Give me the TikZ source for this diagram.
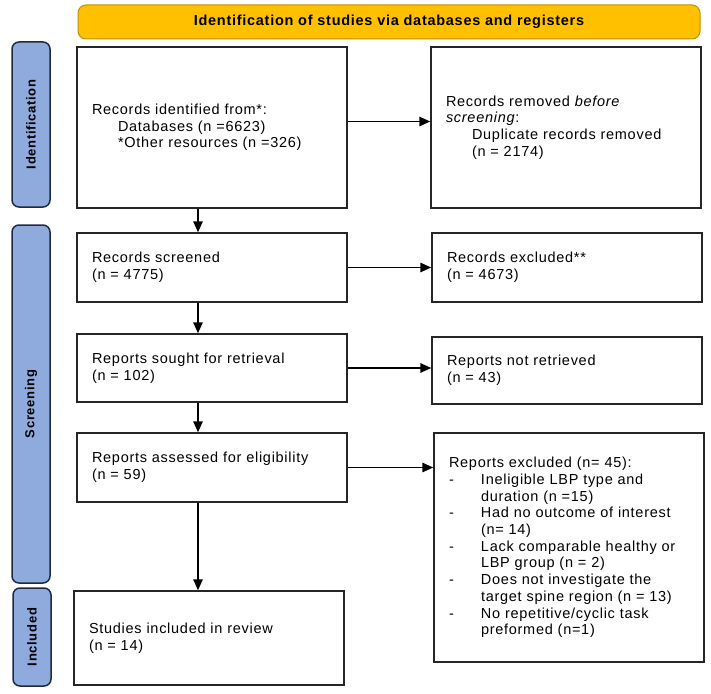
\documentclass[tikz,border=0pt]{standalone}
\usepackage{fontspec}
\setmainfont{Liberation Sans}[LetterSpace=5.0]
\usetikzlibrary{arrows.meta}
\definecolor{bannerfill}{HTML}{FFC000}
\definecolor{bannerline}{HTML}{C09000}
\definecolor{phasefill}{HTML}{8FAADC}
\definecolor{phaseline}{HTML}{1F2A40}
\begin{document}
\begin{tikzpicture}[x=1pt, y=-1pt,
    every node/.style={font=\fontsize{14.5}{16.7}\selectfont},
    box/.style={draw=black!85, line width=1.5pt, text width=240pt, inner xsep=15pt, align=left},
    phase/.style={draw=phaseline, fill=phasefill, line width=1.5pt, rounded corners=7pt, rotate=90, minimum height=38pt, font=\fontsize{13}{15}\selectfont\bfseries},
    arr/.style={-{Triangle[length=11pt,width=9.5pt]}, line width=1.5pt}]
        \useasboundingbox (0,0) rectangle (711,693);

        % Banner
        \node[draw=bannerline, fill=bannerfill, line width=1pt, rounded corners=8pt, minimum width=622pt, minimum height=34pt, font=\fontsize{14.5}{16.7}\selectfont\bfseries] (banner) at (389,22) {Identification of studies via databases and registers};

        % Phase labels
        \node[phase, minimum width=165pt] (identphase) at (31,124.5) {Identification};
        \node[phase, minimum width=358pt] (screenphase) at (31,404) {Screening};
        \node[phase, minimum width=98pt] (inclphase) at (32,637) {Included};

        % Main column
        \node[box, minimum height=161pt] (identified) at (212,127.5) {Records identified from*:\\\hspace*{26pt}Databases (n =6623)\\\hspace*{26pt}*Other resources (n =326)};
        \node[box, minimum height=69pt] (screened) at (212,267.5) {Records screened\\(n = 4775)};
        \node[box, minimum height=68pt] (sought) at (212,368) {Reports sought for retrieval\\(n = 102)};
        \node[box, minimum height=69pt] (assessed) at (212,467.5) {Reports assessed for eligibility\\(n = 59)};
        \node[box, minimum height=94pt] (included) at (209,638) {Studies included in review\\(n = 14)\\[14pt]};

        % Side column
        \node[box, minimum height=161pt] (removed) at (566,127.5) {Records removed \textit{before}\\\textit{screening}:\\\hspace*{26pt}Duplicate records removed\\\hspace*{26pt}(n = 2174)};
        \node[box, minimum height=69pt] (excluded) at (567,267.5) {Records excluded**\\(n = 4673)};
        \node[box, minimum height=67pt] (notretrieved) at (567,370.5) {Reports not retrieved\\(n = 43)};
        \node[box, minimum height=229pt] (repexcluded) at (569,547.5) {Reports excluded (n= 45):\\
            \makebox[32pt][l]{-}Ineligible LBP type and\\\hspace*{32pt}duration (n =15)\\
            \makebox[32pt][l]{-}Had no outcome of interest\\\hspace*{32pt}(n= 14)\\
            \makebox[32pt][l]{-}Lack comparable healthy or\\\hspace*{32pt}LBP group (n = 2)\\
            \makebox[32pt][l]{-}Does not investigate the\\\hspace*{32pt}target spine region (n = 13)\\
            \makebox[32pt][l]{-}No repetitive/cyclic task\\\hspace*{32pt}preformed (n=1)};

        % Arrows
        \draw[arr] ([xshift=-14pt]identified.south) -- ([xshift=-14pt]screened.north);
        \draw[arr] ([xshift=-14pt]screened.south) -- ([xshift=-14pt]sought.north);
        \draw[arr] ([xshift=-14pt]sought.south) -- ([xshift=-14pt]assessed.north);
        \draw[arr] ([xshift=-14pt]assessed.south) -- ([xshift=-14pt]assessed.south |- included.north);
        \draw[arr] ([yshift=6pt]identified.east) -- ([yshift=6pt]removed.west);
        \draw[arr] (screened.east) -- (excluded.west);
        \draw[arr] (sought.east) -- (sought.east -| notretrieved.west);
        \draw[arr] (assessed.east) -- (assessed.east -| repexcluded.west);
\end{tikzpicture}
\end{document}
